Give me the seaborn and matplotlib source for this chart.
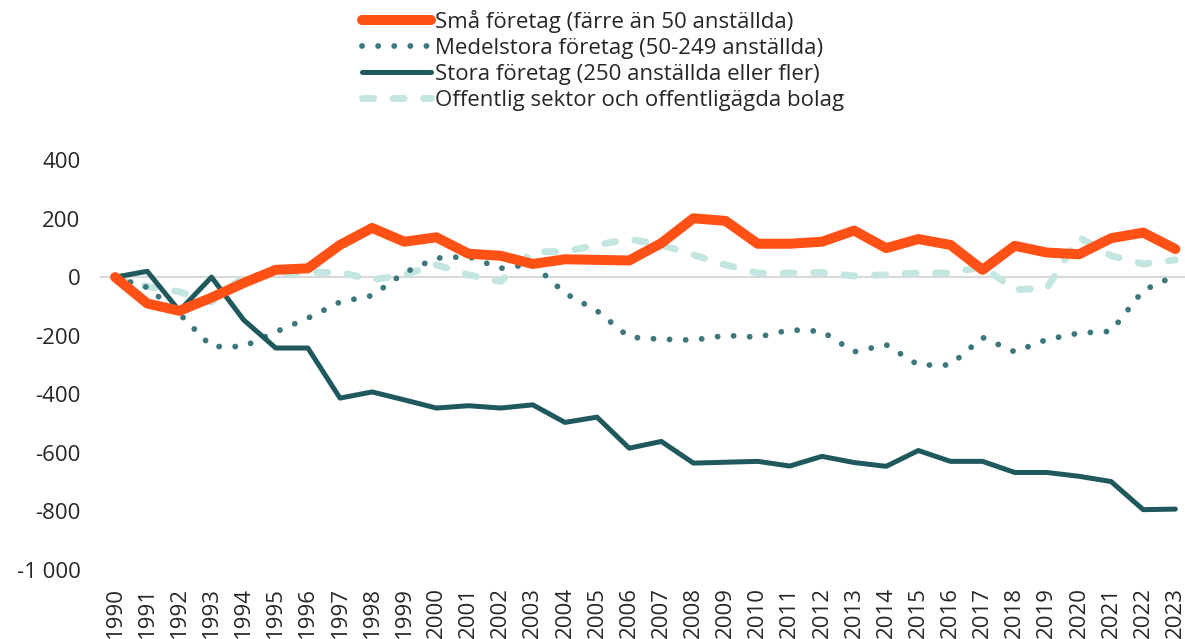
import matplotlib
matplotlib.use("Agg")
import matplotlib.pyplot as plt
import seaborn as sns
import pandas as pd
from matplotlib.lines import Line2D

years = list(range(1990, 2024))

sma = [0, -90, -115, -70, -20, 25, 30, 110, 168, 121, 136, 80, 73, 45, 61, 59, 57,
       116, 201, 192, 114, 114, 121, 159, 99, 130, 110, 25, 107, 84, 78, 133, 152, 96]
medel = [0, -35, -125, -237, -237, -187, -140, -85, -63, 15, 65, 70, 30, 45, -55, -115,
         -205, -212, -215, -199, -205, -180, -185, -255, -231, -300, -300, -206, -255,
         -213, -191, -185, -45, 5]
stora = [0, 20, -115, 0, -146, -242, -242, -413, -392, -419, -447, -439, -447, -436,
         -496, -478, -584, -561, -635, -632, -629, -645, -612, -633, -646, -592, -629,
         -629, -667, -667, -680, -698, -794, -792]
offentlig = [0, -32, -50, -85, 2, 8, 16, 16, -9, 8, 42, 8, -15, 87, 87, 110, 130, 110,
             76, 42, 14, 14, 16, 4, 8, 14, 14, 36, -43, -38, 136, 73, 45, 59]

labels = ["Små företag (färre än 50 anställda)",
          "Medelstora företag (50-249 anställda)",
          "Stora företag (250 anställda eller fler)",
          "Offentlig sektor och offentligägda bolag"]
yticks = [400, 200, 0, -200, -400, -600, -800, -1000]
ytick_labels = ["400", "200", "0", "-200", "-400", "-600", "-800", "-1 000"]

sns.set_theme(style="white")
plt.rcParams['font.family'] = ['Open Sans', 'DejaVu Sans']

c_sma = "#FF5115"
c_medel = "#3B777B"
c_stora = "#1F595D"
c_off = "#C3E6E1"
txt = "#262626"

fig = plt.figure(figsize=(11.85, 6.39), dpi=100)
ax = fig.add_axes([100/1185, 1 - 570/639, 1 - 100/1185, (570 - 160)/639])

df = pd.DataFrame({"pos": range(len(years)), "sma": sma, "medel": medel,
                   "stora": stora, "off": offentlig})

ax.axhline(0, color="#D9D9D9", lw=1.5, zorder=0)

styles = [
    ("off", c_off, dict(lw=5.0, dashes=(1.6, 2.8), dash_capstyle="round"), 1),
    ("medel", c_medel, dict(lw=4.2, dashes=(0.01, 2.75), dash_capstyle="round"), 2),
    ("stora", c_stora, dict(lw=3.6, solid_capstyle="round", solid_joinstyle="round"), 3),
    ("sma", c_sma, dict(lw=7.2, solid_capstyle="round", solid_joinstyle="round"), 4),
]
for col, colr, kw, z in styles:
    sns.lineplot(data=df, x="pos", y=col, ax=ax, color=colr, zorder=z, **kw)

ax.set_xlim(-0.47, 33.3)
ax.set_ylim(-1000, 400)
ax.set_xticks(range(len(years)))
ax.set_xticklabels([str(y) for y in years], rotation=90, fontsize=16, color=txt,
                   va="top", ha="center")
ax.set_yticks(yticks)
ax.set_yticklabels(ytick_labels, fontsize=16, color=txt)
ax.tick_params(axis='x', length=0, pad=12)
ax.tick_params(axis='y', length=0, pad=14)
ax.set_xlabel("")
ax.set_ylabel("")
for s in ax.spines.values():
    s.set_visible(False)

handles = [
    Line2D([], [], color=c_sma, lw=7.2, solid_capstyle="round"),
    Line2D([], [], color=c_medel, lw=4.2, dashes=(0.01, 2.75), dash_capstyle="round"),
    Line2D([], [], color=c_stora, lw=3.6, solid_capstyle="round"),
    Line2D([], [], color=c_off, lw=5.0, dashes=(1.6, 2.8), dash_capstyle="round"),
]
leg = fig.legend(handles, labels, loc="upper left", bbox_to_anchor=(362/1185, 1 - 10/639),
                 frameon=False, fontsize=16, handlelength=3.1, handletextpad=0.2,
                 labelspacing=0.22, borderaxespad=0, borderpad=0)
for t in leg.get_texts():
    t.set_color(txt)

fig.savefig("out.png", dpi=100)
